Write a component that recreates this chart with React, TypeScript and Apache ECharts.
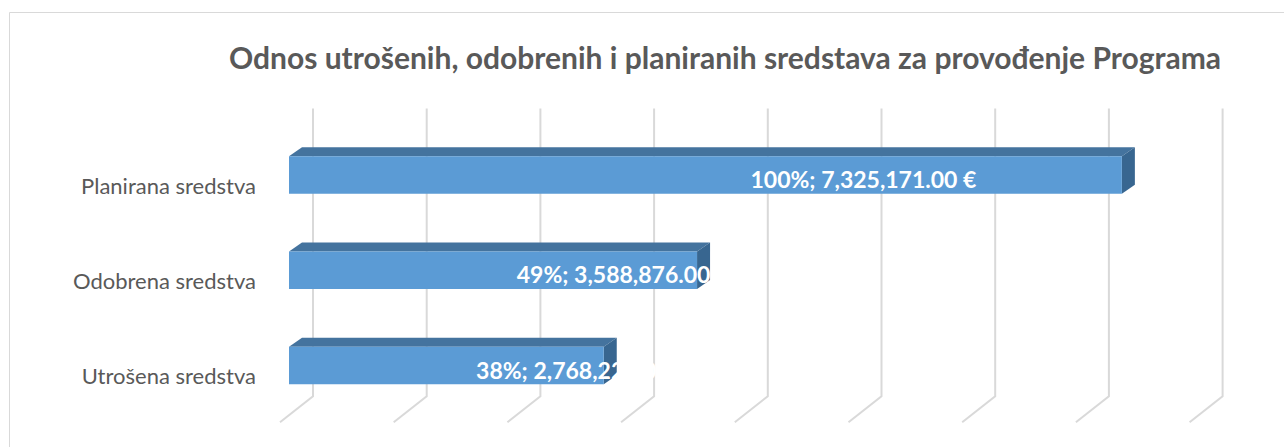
import React, { useEffect, useRef } from "react";
import * as echarts from "echarts";

const title = "Odnos utrošenih, odobrenih i planiranih sredstava za provođenje Programa";
const categories = ["Planirana sredstva", "Odobrena sredstva", "Utrošena sredstva"];
const amounts = [7325171.0, 3588876.0, 2768225.0];
const gridTicks = [0, 1000000, 2000000, 3000000, 4000000, 5000000, 6000000, 7000000, 8000000];

// label horizontal shift from the front-face centre (Excel 3D placement)
const LABEL_DX = [158, 130, 136];
const DEPTH_X = 13;
const DEPTH_Y = -9;

export default function App() {
  const ref = useRef<HTMLDivElement>(null);
  useEffect(() => {
    if (!ref.current) return;
    const chart = echarts.init(ref.current, null, { renderer: "svg" });
    const total = amounts[0];
    const fmt = (v: number) =>
      v.toLocaleString("en-US", { minimumFractionDigits: 2, maximumFractionDigits: 2 });
    const barData = amounts.map((v, i) => [v, i, `${Math.round((v / total) * 100)}%; ${fmt(v)} €`]);
    const gridData = gridTicks.map((t) => [t, 0]);

    chart.setOption({
      animation: false,
      backgroundColor: "#ffffff",
      grid: { left: 289, right: 85.4, top: 127.4, height: 285.8, containLabel: false },
      xAxis: {
        type: "value",
        min: 0,
        max: 8000000,
        interval: 1000000,
        show: false,
        splitLine: { show: false },
      },
      yAxis: {
        type: "category",
        data: categories,
        inverse: true,
        axisLine: { show: false },
        axisTick: { show: false },
        splitLine: { show: false },
        axisLabel: {
          color: "#595959",
          fontFamily: "Lato",
          fontSize: 22,
          margin: 33,
          verticalAlign: "top",
          lineHeight: 20,
        },
      },
      graphic: [
        {
          type: "rect",
          z: -10,
          shape: { x: 9.5, y: 12.5, width: 1300, height: 500 },
          style: { fill: "none", stroke: "#d9d9d9", lineWidth: 1 },
        },
        {
          type: "text",
          x: 725,
          y: 57,
          style: {
            text: title,
            textAlign: "center",
            textVerticalAlign: "middle",
            fill: "#595959",
            font: "bold 30px Lato",
          },
        },
      ],
      series: [
        {
          type: "custom",
          z: 1,
          data: gridData,
          renderItem: (params: any, api: any) => {
            const cs = params.coordSys;
            const p = api.coord([api.value(0), 0]);
            const bx = p[0] + 24;
            const top = cs.y - 19;
            const bend = cs.y + cs.height - 17;
            return {
              type: "polyline",
              shape: {
                points: [
                  [bx, top],
                  [bx, bend],
                  [bx - 33, bend + 26],
                ],
              },
              style: { stroke: "#d9d9d9", lineWidth: 2, fill: "none" },
            };
          },
        },
        {
          type: "custom",
          z: 2,
          data: barData,
          renderItem: (params: any, api: any) => {
            const i = params.dataIndex;
            const v = api.value(0);
            const cat = api.value(1);
            const p0 = api.coord([0, cat]);
            const p1 = api.coord([v, cat]);
            const band = api.size([0, 1])[1];
            const h = band * 0.394;
            const x0 = p0[0];
            const x1 = p1[0];
            const yt = p0[1] - h / 2;
            const yb = p0[1] + h / 2;
            return {
              type: "group",
              children: [
                {
                  type: "polygon",
                  shape: {
                    points: [
                      [x0, yt],
                      [x1, yt],
                      [x1 + DEPTH_X, yt + DEPTH_Y],
                      [x0 + DEPTH_X, yt + DEPTH_Y],
                    ],
                  },
                  style: { fill: "#44739e" },
                },
                {
                  type: "polygon",
                  shape: {
                    points: [
                      [x1, yt],
                      [x1 + DEPTH_X, yt + DEPTH_Y],
                      [x1 + DEPTH_X, yb + DEPTH_Y],
                      [x1, yb],
                    ],
                  },
                  style: { fill: "#386690" },
                },
                {
                  type: "rect",
                  shape: { x: x0, y: yt, width: x1 - x0, height: h },
                  style: { fill: "#5b9bd5" },
                },
                {
                  type: "text",
                  x: (x0 + x1) / 2 + LABEL_DX[i],
                  y: p0[1] + 4,
                  style: {
                    text: barData[i][2] as string,
                    textAlign: "center",
                    textVerticalAlign: "middle",
                    fill: "#ffffff",
                    font: "bold 23px Lato",
                  },
                },
              ],
            };
          },
        },
      ],
    });
    return () => chart.dispose();
  }, []);
  return (
    <div
      ref={ref}
      style={{ position: "absolute", left: 0, top: 0, width: 1284, height: 447 }}
    />
  );
}
